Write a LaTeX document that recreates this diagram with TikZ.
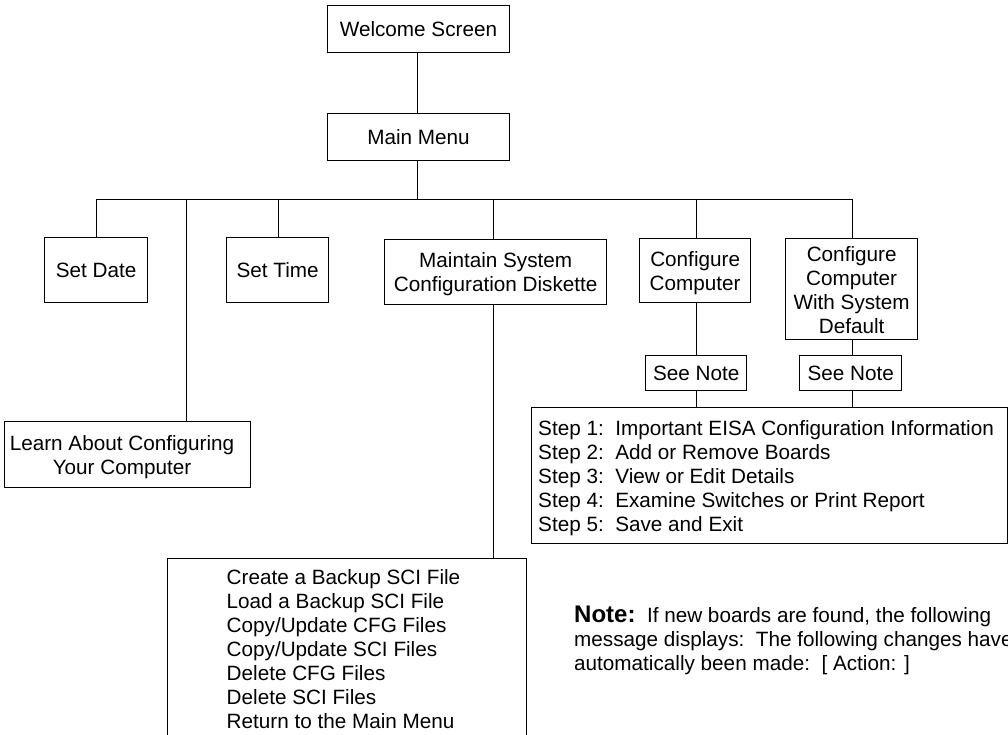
\documentclass[tikz,border=0pt]{standalone}
\usepackage{fontspec}
\setmainfont{Liberation Sans}
\tikzset{
  box/.style={draw,line width=1.3pt,inner sep=0pt,align=center,font=\fontsize{20.7}{24}\selectfont,anchor=north west},
  listing/.style={anchor=north west,align=left,font=\fontsize{20.7}{24}\selectfont,inner sep=0pt},
  conn/.style={line width=0.9pt}
}
\newcommand{\bx}[6]{\node[box,minimum width=#4pt,minimum height=#5pt] (#1) at (#2,#3) {#6};}
\newcommand{\lowr}{\rule{0pt}{19pt}}
\begin{document}
\begin{tikzpicture}[x=1pt,y=-1pt]
\useasboundingbox (0,0) rectangle (1008,735);
\fill[white] (0,0) rectangle (1008,735);
\bx{welcome}{327}{5}{181.6}{47}{Welcome Screen}
\bx{main}{327}{113}{181.6}{47}{Main Menu}
\bx{date}{44}{237}{103}{65}{Set Date}
\bx{time}{226}{237}{102}{65}{Set Time}
\bx{maint}{384}{239}{222}{65}{\lowr Maintain System\\Configuration Diskette}
\bx{cfg}{639}{238}{111}{64}{\lowr Configure\\Computer}
\bx{def}{785}{238}{132}{101}{\rule{0pt}{17pt}Configure\\Computer\\With System\\Default}
\bx{n1}{645}{355}{101}{35}{See Note}
\bx{n2}{799}{355}{102}{35}{See Note}
\bx{learn}{3.5}{421}{246.5}{66}{}
\node[font=\fontsize{20.7}{24}\selectfont,align=center,inner sep=0pt] (learnt) at (122,457.5) {Learn About Configuring\\Your Computer};
\node[box,minimum width=476pt,minimum height=136pt] (steps) at (531,407) {};
\node[listing] (stepst) at (538,420) {Step 1:\ \ Important EISA Configuration Information\\Step 2:\ \ Add or Remove Boards\\Step 3:\ \ View or Edit Details\\Step 4:\ \ Examine Switches or Print Report\\Step 5:\ \ Save and Exit};
\node[box,minimum width=359.5pt,minimum height=185pt] (menu) at (166.5,558) {};
\node[listing] (menut) at (226.5,569) {Create a Backup SCI File\\Load a Backup SCI File\\Copy/Update CFG Files\\Copy/Update SCI Files\\Delete CFG Files\\Delete SCI Files\\Return to the Main Menu};
\node[listing] (note) at (574,606) {{\fontsize{24}{24}\selectfont\bfseries Note:}\ \ If new boards are found, the following\\message displays:\ \ The following changes have\\automatically been made:\ \ [ Action: ]};
\coordinate (bus) at (417.5,199);
\coordinate (dt) at (96.7,199);
\coordinate (lt) at (186.5,199);
\coordinate (tt) at (278.8,199);
\coordinate (mt) at (493.5,199);
\coordinate (ct) at (696,199);
\coordinate (ft) at (852,199);
\draw[conn] (welcome.south -| bus) -- (main.north -| bus);
\draw[conn] (main.south -| bus) -- (bus);
\draw[conn] (dt) -- (ft);
\draw[conn] (dt) -- (dt |- date.north);
\draw[conn] (lt) -- (lt |- learn.north);
\draw[conn] (tt) -- (tt |- time.north);
\draw[conn] (mt) -- (mt |- maint.north);
\draw[conn] (ct) -- (ct |- cfg.north);
\draw[conn] (ft) -- (ft |- def.north);
\draw[conn] (ct |- cfg.south) -- (ct |- n1.north);
\draw[conn] (ft |- def.south) -- (ft |- n2.north);
\draw[conn] (ct |- n1.south) -- (ct |- steps.north);
\draw[conn] (ft |- n2.south) -- (ft |- steps.north);
\draw[conn] (mt |- maint.south) -- (mt |- menu.north);
\end{tikzpicture}
\end{document}
